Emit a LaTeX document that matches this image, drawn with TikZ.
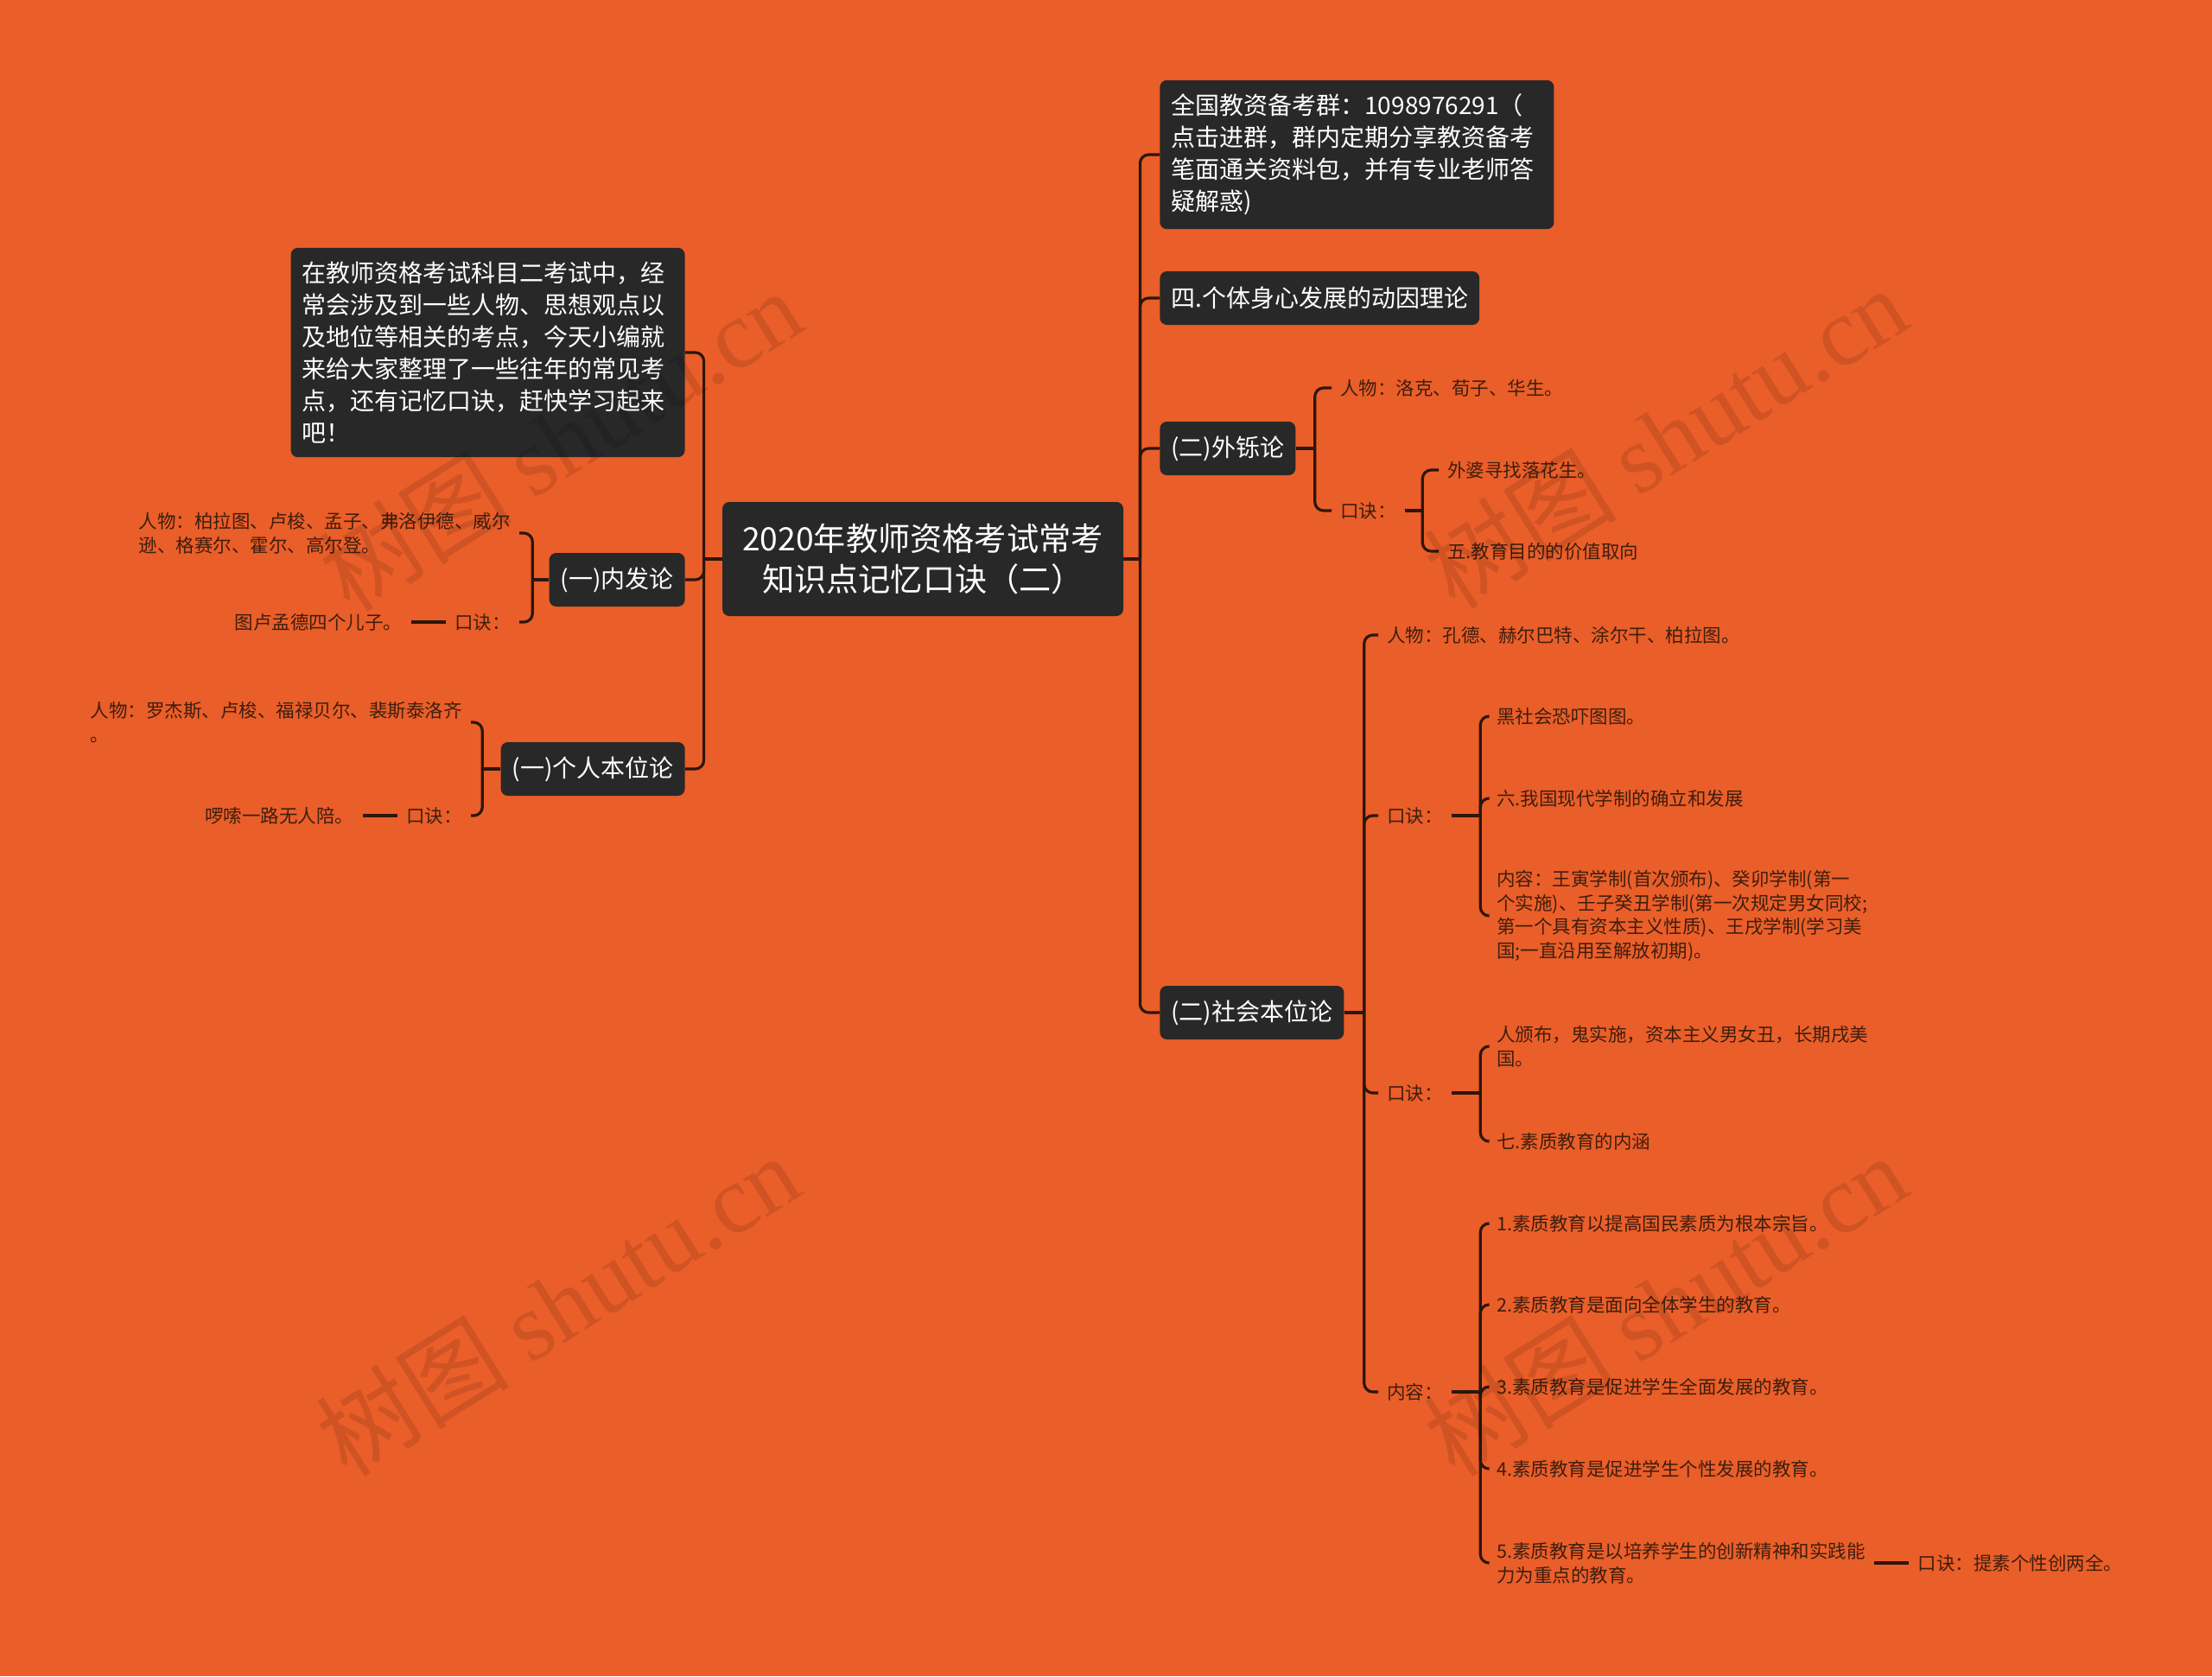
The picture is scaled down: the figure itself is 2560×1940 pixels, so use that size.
\documentclass[tikz,border=0pt]{standalone}
\usepackage{fontspec}
\setmainfont{Noto Sans CJK SC}
\newfontfamily\wmlatin{Liberation Serif}
\usepackage{xcolor}
\usetikzlibrary{calc}

\definecolor{bgorange}{RGB}{234,94,41}
\definecolor{boxgray}{RGB}{40,40,40}
\definecolor{linebrown}{RGB}{45,22,10}
\definecolor{leafbrown}{RGB}{62,30,14}

\begin{document}
\begin{tikzpicture}[
    x=0.5pt, y=-0.5pt,
    topic/.style={fill=boxgray, text=white, rounded corners=4pt, font=\fontsize{14}{18.5}\selectfont, inner xsep=6.5pt, inner ysep=8pt, minimum height=31pt, align=left},
    rootbox/.style={topic, font=\fontsize{18.6}{23.5}\selectfont, align=center, minimum width=232pt, minimum height=66pt},
    leaf/.style={text=leafbrown, font=\fontsize{10.75}{13.9}\selectfont, inner xsep=5pt, inner ysep=2pt, align=left},
    link/.style={draw=linebrown, line width=1.6pt},
    fork/.style={link, rounded corners=5pt},
    wm/.style={text=black, opacity=0.11, font=\fontsize{56}{56}\selectfont, rotate=32}
]
    \fill[bgorange] (0,0) rectangle (2560,1940);
    \useasboundingbox (0,0) rectangle (2560,1940);

    % centre
    \node[rootbox] (root) at (1068,647) {2020年教师资格考试常考\\知识点记忆口诀（二）};

    % left side
    \node[topic, text width=215pt, anchor=east] (intro) at (793,408) {在教师资格考试科目二考试中，经\\常会涉及到一些人物、思想观点以\\及地位等相关的考点，今天小编就\\来给大家整理了一些往年的常见考\\点，还有记忆口诀，赶快学习起来\\吧！};
    \node[topic, anchor=east] (neifa) at (793,671) {(一)内发论};
    \node[topic, anchor=east] (geren) at (793,890) {(一)个人本位论};

    \node[leaf, anchor=east] (nf-rw) at (601,617) {人物：柏拉图、卢梭、孟子、弗洛伊德、威尔\\逊、格赛尔、霍尔、高尔登。};
    \node[leaf, anchor=east] (nf-kj) at (601,720) {口诀：};
    \node[leaf, anchor=east] (nf-kj1) at ($(nf-kj.west)+(-40,0)$) {图卢孟德四个儿子。};

    \node[leaf, anchor=east] (gr-rw) at (545,836) {人物：罗杰斯、卢梭、福禄贝尔、裴斯泰洛齐\\。};
    \node[leaf, anchor=east] (gr-kj) at (545,944) {口诀：};
    \node[leaf, anchor=east] (gr-kj1) at ($(gr-kj.west)+(-40,0)$) {啰嗦一路无人陪。};

    % right side
    \node[topic, text width=215pt, anchor=west] (qun) at (1342,179) {全国教资备考群：1098976291（\\点击进群，群内定期分享教资备考\\笔面通关资料包，并有专业老师答\\疑解惑)};
    \node[topic, anchor=west] (dongyin) at (1342,345) {四.个体身心发展的动因理论};
    \node[topic, anchor=west] (waishuo) at (1342,519) {(二)外铄论};
    \node[topic, anchor=west] (shehui) at (1342,1172) {(二)社会本位论};

    \node[leaf, anchor=west] (ws-rw) at (1541,449) {人物：洛克、荀子、华生。};
    \node[leaf, anchor=west] (ws-kj) at (1541,591) {口诀：};
    \node[leaf, anchor=west] (ws-kj1) at (1665,544) {外婆寻找落花生。};
    \node[leaf, anchor=west] (ws-kj2) at (1665,638) {五.教育目的的价值取向};

    \node[leaf, anchor=west] (sh-rw) at (1595,735) {人物：孔德、赫尔巴特、涂尔干、柏拉图。};
    \node[leaf, anchor=west] (sh-kj1) at (1595,944) {口诀：};
    \node[leaf, anchor=west] (sh-kj2) at (1595,1265) {口诀：};
    \node[leaf, anchor=west] (sh-nr) at (1595,1611) {内容：};

    \node[leaf, anchor=west] (k1a) at (1722,829) {黑社会恐吓图图。};
    \node[leaf, anchor=west] (k1b) at (1722,924) {六.我国现代学制的确立和发展};
    \node[leaf, anchor=west] (k1c) at (1722,1060) {内容：王寅学制(首次颁布)、癸卯学制(第一\\个实施)、壬子癸丑学制(第一次规定男女同校;\\第一个具有资本主义性质)、王戌学制(学习美\\国;一直沿用至解放初期)。};
    \node[leaf, anchor=west] (k2a) at (1722,1211) {人颁布，鬼实施，资本主义男女丑，长期戌美\\国。};
    \node[leaf, anchor=west] (k2b) at (1722,1321) {七.素质教育的内涵};

    \node[leaf, anchor=west] (n1) at (1722,1416) {1.素质教育以提高国民素质为根本宗旨。};
    \node[leaf, anchor=west] (n2) at (1722,1510) {2.素质教育是面向全体学生的教育。};
    \node[leaf, anchor=west] (n3) at (1722,1605) {3.素质教育是促进学生全面发展的教育。};
    \node[leaf, anchor=west] (n4) at (1722,1700) {4.素质教育是促进学生个性发展的教育。};
    \node[leaf, anchor=west] (n5) at (1722,1809) {5.素质教育是以培养学生的创新精神和实践能\\力为重点的教育。};
    \node[leaf, anchor=west] (n5k) at ($(n5.east)+(40,0)$) {口诀：提素个性创两全。};

    % connectors, left
    \draw[link] (root.west) -- ++(-21,0) coordinate (b-rootL);
    \foreach \c in {intro,neifa,geren} \draw[fork] (b-rootL) |- (\c.east);
    \draw[link] (neifa.west) -- ++(-19,0) coordinate (b-nf);
    \foreach \c in {nf-rw,nf-kj} \draw[fork] (b-nf) |- (\c.east);
    \draw[link] (nf-kj.west) -- (nf-kj1.east);
    \draw[link] (geren.west) -- ++(-21,0) coordinate (b-gr);
    \foreach \c in {gr-rw,gr-kj} \draw[fork] (b-gr) |- (\c.east);
    \draw[link] (gr-kj.west) -- (gr-kj1.east);

    % connectors, right
    \draw[link] (root.east) -- ++(19,0) coordinate (b-rootR);
    \foreach \c in {qun,dongyin,waishuo,shehui} \draw[fork] (b-rootR) |- (\c.west);
    \draw[link] (waishuo.east) -- ++(22,0) coordinate (b-ws);
    \foreach \c in {ws-rw,ws-kj} \draw[fork] (b-ws) |- (\c.west);
    \draw[link] (ws-kj.east) -- ++(20,0) coordinate (b-wskj);
    \foreach \c in {ws-kj1,ws-kj2} \draw[fork] (b-wskj) |- (\c.west);
    \draw[link] (shehui.east) -- ++(23,0) coordinate (b-sh);
    \foreach \c in {sh-rw,sh-kj1,sh-kj2,sh-nr} \draw[fork] (b-sh) |- (\c.west);
    \draw[link] (sh-kj1.east) -- ++(33,0) coordinate (b-k1);
    \foreach \c in {k1a,k1b,k1c} \draw[fork] (b-k1) |- (\c.west);
    \draw[link] (sh-kj2.east) -- ++(33,0) coordinate (b-k2);
    \foreach \c in {k2a,k2b} \draw[fork] (b-k2) |- (\c.west);
    \draw[link] (sh-nr.east) -- ++(33,0) coordinate (b-nr);
    \foreach \c in {n1,n2,n3,n4,n5} \draw[fork] (b-nr) |- (\c.west);
    \draw[link] (n5.east) -- (n5k.west);

    % watermarks
    \node[wm] (wm1) at (648,509) {树图 {\wmlatin shutu.cn}};
    \node[wm] (wm2) at (1927,506) {树图 {\wmlatin shutu.cn}};
    \node[wm] (wm3) at (645,1510) {树图 {\wmlatin shutu.cn}};
    \node[wm] (wm4) at (1927,1510) {树图 {\wmlatin shutu.cn}};
\end{tikzpicture}
\end{document}
